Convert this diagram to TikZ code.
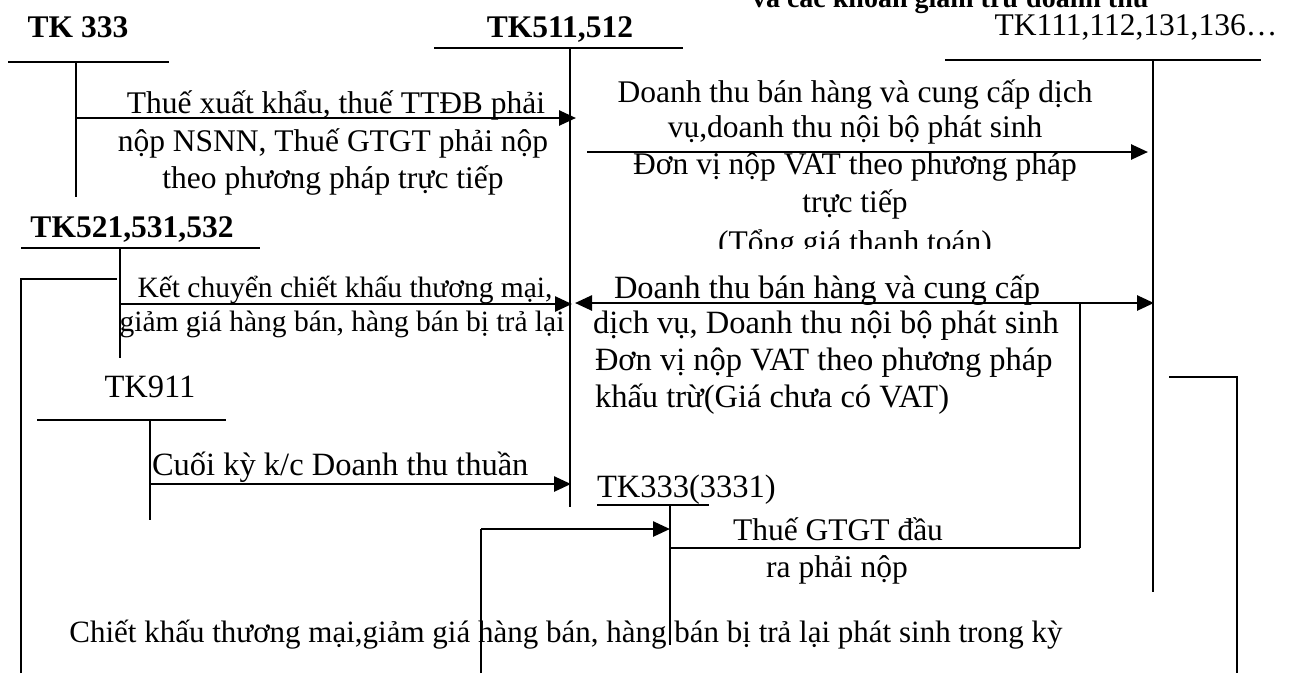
\documentclass[tikz,border=0pt]{standalone}
\usepackage{fontspec}
\setmainfont{Liberation Serif}
\usetikzlibrary{arrows.meta}
\begin{document}
\begin{tikzpicture}[x=1pt,y=-1pt,
  txt/.style={inner sep=0pt,outer sep=0pt,anchor=base,font=\fontsize{31.5}{36}\selectfont},
  btxt/.style={txt,font=\fontsize{31.5}{36}\selectfont\bfseries},
  bigtxt/.style={txt,font=\fontsize{32.5}{36}\selectfont},
  smalltxt/.style={txt,font=\fontsize{29.5}{36}\selectfont},
  acct/.style={line width=2pt},
  thinline/.style={line width=1.6pt},
  flow/.style={line width=2.6pt,-{Triangle[length=17pt,width=15pt]}},
  flowboth/.style={line width=2.6pt,{Triangle[length=17pt,width=15pt]}-{Triangle[length=17pt,width=15pt]}},
  plainflow/.style={line width=2.6pt}]
\useasboundingbox (0,0) rectangle (1292,673);
\fill[white] (0,0) rectangle (1292,673);

% heading, cut off at the top edge
\node[txt,font=\fontsize{28}{32}\selectfont\bfseries,anchor=base west] (head) at (752,7) {và các khoản giảm trừ doanh thu};

% account labels
\node[btxt] (l333) at (78,37) {TK 333};
\node[btxt] (l511) at (560,37) {TK511,512};
\node[txt] (l111) at (1136,35) {TK111,112,131,136…};
\node[btxt] (l521) at (132,237) {TK521,531,532};
\node[bigtxt] (l911) at (150,397) {TK911};
\node[bigtxt,anchor=base west] (l3331) at (597,497) {TK333(3331)};

% T-account coordinates
\coordinate (a333l) at (8,62);    \coordinate (a333r) at (169,62);
\coordinate (a333t) at (76,62);   \coordinate (a333b) at (76,197);
\coordinate (a511l) at (434,48);  \coordinate (a511r) at (683,48);
\coordinate (a511t) at (570,48);  \coordinate (a511b) at (570,507);
\coordinate (a111l) at (945,60);  \coordinate (a111r) at (1261,60);
\coordinate (a111t) at (1153,60); \coordinate (a111b) at (1153,592);
\coordinate (a521l) at (21,248);  \coordinate (a521r) at (260,248);
\coordinate (a521t) at (120,248); \coordinate (a521b) at (120,358);
\coordinate (a911l) at (37,420);  \coordinate (a911r) at (226,420);
\coordinate (a911t) at (150,420); \coordinate (a911b) at (150,520);
\coordinate (a3331l) at (597,505); \coordinate (a3331r) at (709,505);
\coordinate (a3331t) at (670,505); \coordinate (a3331b) at (670,645);

\draw[acct] (a333l) -- (a333r);  \draw[acct] (a333t) -- (a333b);
\draw[acct] (a511l) -- (a511r);  \draw[acct] (a511t) -- (a511b);
\draw[acct] (a111l) -- (a111r);  \draw[acct] (a111t) -- (a111b);
\draw[acct] (a521l) -- (a521r);  \draw[acct] (a521t) -- (a521b);
\draw[acct] (a911l) -- (a911r);  \draw[acct] (a911t) -- (a911b);
\draw[acct] (a3331l) -- (a3331r); \draw[thinline] (a3331t) -- (a3331b);

% flow coordinates
\coordinate (f1s) at (76,118);   \coordinate (f1e) at (576,118);
\coordinate (f2s) at (587,152);  \coordinate (f2e) at (1148,152);
\coordinate (f3s) at (120,304);  \coordinate (f3e) at (572,304);
\coordinate (f4s) at (575,303);  \coordinate (f4e) at (1154,303);
\coordinate (v1t) at (1080,303); \coordinate (v1b) at (1080,548);
\coordinate (v1e) at (670,548);
\coordinate (f5s) at (150,484);  \coordinate (f5e) at (571,484);
\coordinate (f6s) at (481,673);  \coordinate (f6c) at (481,529);
\coordinate (f6e) at (670,529);
\coordinate (r1s) at (1169,377); \coordinate (r1c) at (1237,377);
\coordinate (r1e) at (1237,673);
\coordinate (l1s) at (21,673);   \coordinate (l1c) at (21,279);
\coordinate (l1e) at (117,279);

\draw[flow] (f1s) -- (f1e);
\draw[flow] (f2s) -- (f2e);
\draw[flow] (f3s) -- (f3e);
\draw[flowboth] (f4s) -- (f4e);
\draw[acct] (v1t) -- (v1b);
\draw[plainflow] (v1b) -- (v1e);
\draw[flow] (f5s) -- (f5e);
\draw[acct] (f6s) -- (f6c);
\draw[flow] (f6c) -- (f6e);
\draw[acct] (r1s) -- (r1c) -- (r1e);
\draw[acct] (l1s) -- (l1c) -- (l1e);

% texts
\node[txt] (t1a) at (336,113) {Thuế xuất khẩu, thuế TTĐB phải};
\node[txt] (t1b) at (333,151) {nộp NSNN, Thuế GTGT phải nộp};
\node[txt] (t1c) at (333,188) {theo phương pháp trực tiếp};

\node[txt] (t2a) at (855,102) {Doanh thu bán hàng và cung cấp dịch};
\node[txt] (t2b) at (855,137) {vụ,doanh thu nội bộ phát sinh};
\node[txt] (t2c) at (855,174) {Đơn vị nộp VAT theo phương pháp};
\node[txt] (t2d) at (855,212) {trực tiếp};
\begin{scope}
  \clip (580,160) rectangle (1140,248);
  \node[txt] (t2e) at (855,252) {(Tổng giá thanh toán)};
\end{scope}

\node[smalltxt] (t3a) at (345,297) {Kết chuyển chiết khấu thương mại,};
\node[smalltxt] (t3b) at (342,331) {giảm giá hàng bán, hàng bán bị trả lại};

\node[bigtxt] (t4a) at (827,298) {Doanh thu bán hàng và cung cấp};
\node[bigtxt] (t4b) at (826,333) {dịch vụ, Doanh thu nội bộ phát sinh};
\node[bigtxt,anchor=base west] (t4c) at (595,370) {Đơn vị nộp VAT theo phương pháp};
\node[bigtxt,anchor=base west] (t4d) at (595,407) {khấu trừ(Giá chưa có VAT)};

\node[txt] (t5a) at (838,540) {Thuế GTGT đầu};
\node[txt] (t5b) at (837,577) {ra phải nộp};

\node[bigtxt,anchor=base west] (t6) at (152,475) {Cuối kỳ k/c Doanh thu thuần};

\node[txt,font=\fontsize{31}{36}\selectfont] (t7) at (566,642) {Chiết khấu thương mại,giảm giá hàng bán, hàng bán bị trả lại phát sinh trong kỳ};
\end{tikzpicture}
\end{document}
